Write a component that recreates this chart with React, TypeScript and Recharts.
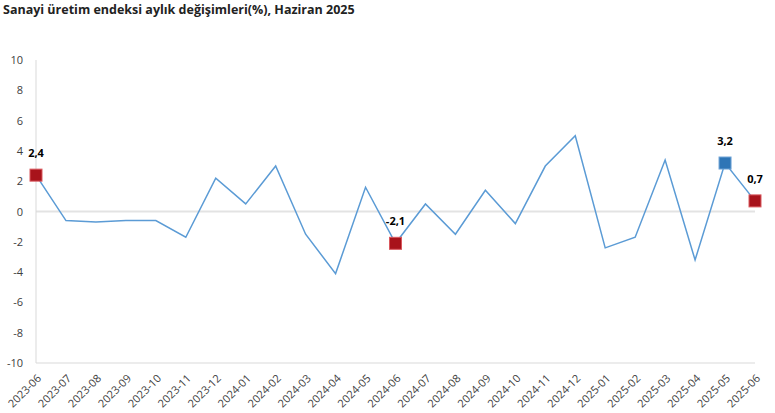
import { LineChart, Line, XAxis, YAxis, ReferenceLine } from 'recharts';

const months = [
  '2023-06', '2023-07', '2023-08', '2023-09', '2023-10', '2023-11', '2023-12',
  '2024-01', '2024-02', '2024-03', '2024-04', '2024-05', '2024-06', '2024-07',
  '2024-08', '2024-09', '2024-10', '2024-11', '2024-12', '2025-01', '2025-02',
  '2025-03', '2025-04', '2025-05', '2025-06',
];

const changes = [
  2.4, -0.6, -0.7, -0.6, -0.6, -1.7, 2.2,
  0.5, 3.0, -1.5, -4.1, 1.6, -2.1, 0.5,
  -1.5, 1.4, -0.8, 3.0, 5.0, -2.4, -1.7,
  3.4, -3.2, 3.2, 0.7,
];

// marker colour for the highlighted months, '' = no marker
const highlights = [
  'red', '', '', '', '', '', '',
  '', '', '', '', '', 'red', '',
  '', '', '', '', '', '', '',
  '', '', 'blue', 'red',
];

const yTicks = [-10, -8, -6, -4, -2, 0, 2, 4, 6, 8, 10];

const markerColors: Record<string, { fill: string; stroke: string }> = {
  red: { fill: '#a8131b', stroke: '#d9585e' },
  blue: { fill: '#2e75b6', stroke: '#6ea3d6' },
};

const data = months.map((month, i) => ({
  month,
  value: changes[i],
  mark: highlights[i],
}));

const FONT = '"Open Sans", "Noto Sans", sans-serif';
const TICK_COLOR = '#404040';

const MarkerDot = (props: any) => {
  const { cx, cy, payload, index } = props;
  if (!payload.mark) return <g key={`dot-${index}`} />;
  const c = markerColors[payload.mark];
  return (
    <g key={`dot-${index}`}>
      <rect x={cx - 6} y={cy - 6} width={12} height={12} fill={c.fill} stroke={c.stroke} strokeWidth={1} />
      <text
        x={cx}
        y={cy - 18}
        textAnchor="middle"
        fontFamily={FONT}
        fontSize={11}
        fontWeight={700}
        fill="#000"
      >
        {payload.value.toFixed(1).replace('.', ',')}
      </text>
    </g>
  );
};

const MonthTick = (props: any) => {
  const { x, y, payload } = props;
  return (
    <g transform={`translate(${x + 6},${y + 8})`}>
      <text
        textAnchor="end"
        transform="rotate(-45)"
        fontFamily={FONT}
        fontSize={11}
        fill={TICK_COLOR}
      >
        {payload.value}
      </text>
    </g>
  );
};

const ValueTick = (props: any) => {
  const { x, y, payload } = props;
  return (
    <text
      x={x}
      y={y}
      dy={4}
      textAnchor="end"
      fontFamily={FONT}
      fontSize={11}
      fill={TICK_COLOR}
    >
      {payload.value}
    </text>
  );
};

export default function App() {
  return (
    <div style={{ position: 'absolute', left: 0, top: 0, width: 775, height: 413, background: '#fff' }}>
      <div
        style={{
          position: 'absolute',
          left: 3,
          top: 1,
          fontFamily: FONT,
          fontWeight: 700,
          fontSize: 12.5,
          color: '#222',
        }}
      >
        Sanayi üretim endeksi aylık değişimleri(%), Haziran 2025
      </div>
      <LineChart
        width={775}
        height={413}
        data={data}
        margin={{ top: 60, right: 20, left: 0, bottom: 0 }}
      >
        <XAxis
          dataKey="month"
          interval={0}
          height={50}
          axisLine={{ stroke: '#d9d9d9' }}
          tickLine={false}
          tick={<MonthTick />}
        />
        <YAxis
          domain={[-10, 10]}
          ticks={yTicks}
          width={36}
          interval={0}
          axisLine={{ stroke: '#d9d9d9' }}
          tickLine={false}
          tickMargin={7}
          tick={<ValueTick />}
        />
        <ReferenceLine y={0} stroke="#e3e3e3" strokeWidth={2} />
        <Line
          type="linear"
          dataKey="value"
          stroke="#5b9bd5"
          strokeWidth={1.5}
          dot={<MarkerDot />}
          activeDot={false}
          isAnimationActive={false}
        />
      </LineChart>
    </div>
  );
}
